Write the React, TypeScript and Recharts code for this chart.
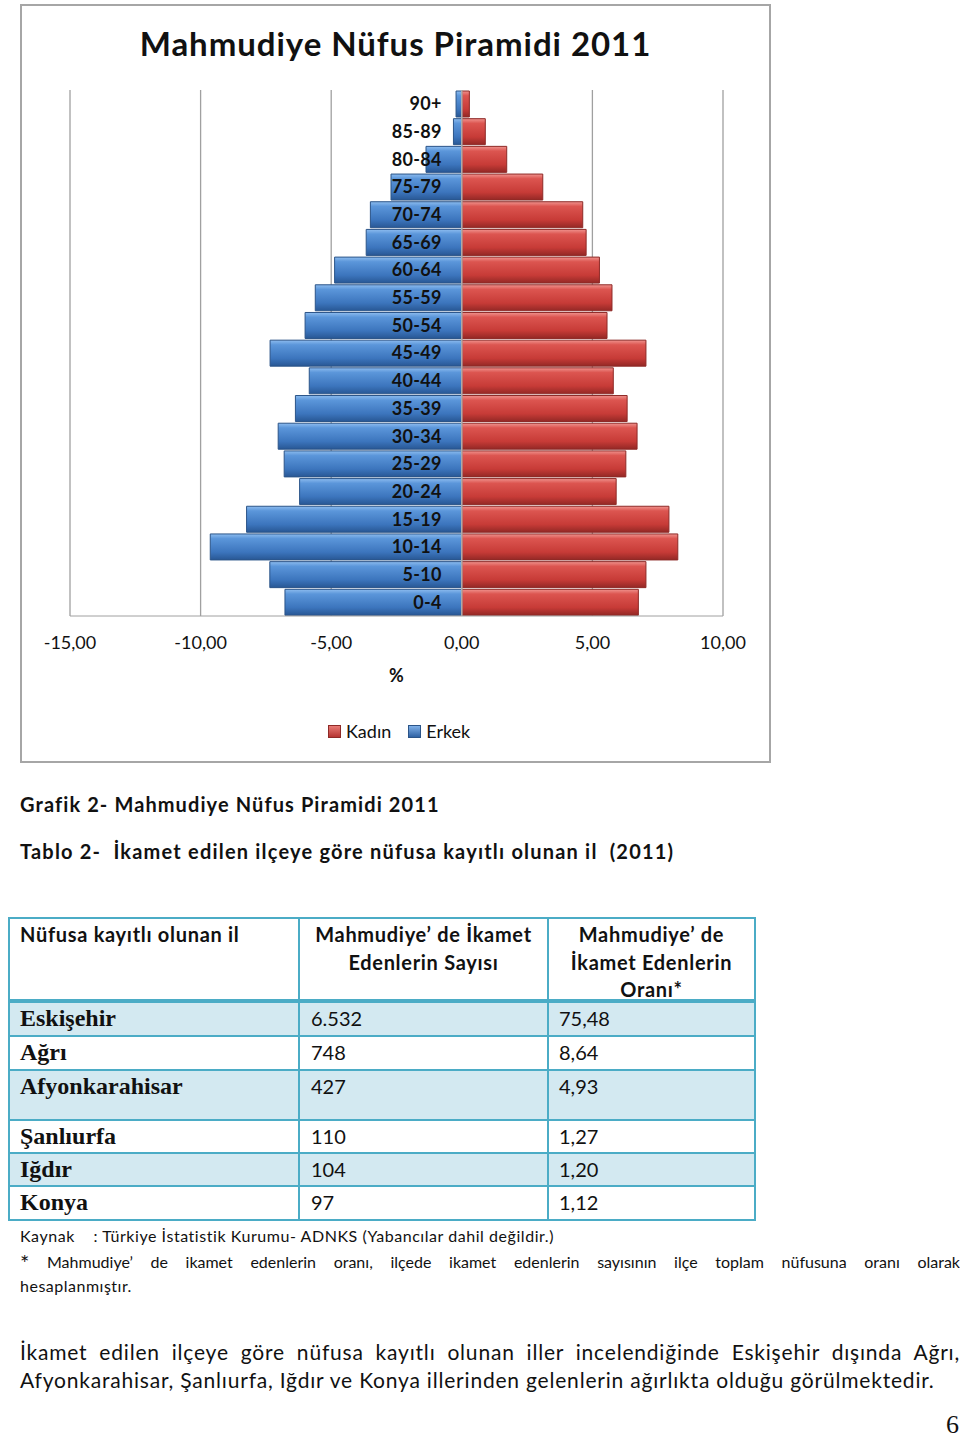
import React from 'react';
import { BarChart, Bar, XAxis, YAxis, CartesianGrid, ReferenceLine } from 'recharts';

const ageGroups = ['90+', '85-89', '80-84', '75-79', '70-74', '65-69', '60-64', '55-59', '50-54', '45-49', '40-44', '35-39', '30-34', '25-29', '20-24', '15-19', '10-14', '5-10', '0-4'];
const erkek = [-0.22, -0.32, -1.37, -2.71, -3.5, -3.66, -4.87, -5.61, -6.0, -7.34, -5.84, -6.37, -7.03, -6.8, -6.21, -8.24, -9.63, -7.35, -6.77];
const kadin = [0.29, 0.9, 1.72, 3.1, 4.63, 4.76, 5.27, 5.75, 5.56, 7.05, 5.8, 6.33, 6.71, 6.28, 5.91, 7.93, 8.27, 7.05, 6.76];
const xTicks = [-15, -10, -5, 0, 5, 10];

const tableProvinces = ['Eskişehir', 'Ağrı', 'Afyonkarahisar', 'Şanlıurfa', 'Iğdır', 'Konya'];
const tableCounts = ['6.532', '748', '427', '110', '104', '97'];
const tableRates = ['75,48', '8,64', '4,93', '1,27', '1,20', '1,12'];

const data = ageGroups.map((age, i) => ({ age, erkek: erkek[i], kadin: kadin[i] }));

const CW = 747;
const CH = 755;
const YW = 1;
const M = { top: 84, right: 46, bottom: 75, left: 48 - YW };
const X_MIN = -15;
const X_MAX = 10;
const PLOT_LEFT = M.left + YW;
const PLOT_W = CW - PLOT_LEFT - M.right;
const ZERO_X = PLOT_LEFT + ((0 - X_MIN) / (X_MAX - X_MIN)) * PLOT_W;
const LABEL_X = ZERO_X - 20;

const SANS = 'Lato, "Open Sans", sans-serif';
const SERIF = '"Liberation Serif", "DejaVu Serif", serif';

const renderAgeTick = (props: any) => {
  const { y, payload } = props;
  return (
    <text x={LABEL_X} y={y} dy="0.36em" textAnchor="end" fontFamily={SANS} fontWeight={700} fontSize={18} fill="#111" letterSpacing={0.3}>
      {payload.value}
    </text>
  );
};

const fmt = (v: number) => v.toFixed(2).replace('.', ',');

const BORDER = '#4bacc6';
const SHADE = '#d3e9f1';

export default function App() {
  const rowHeights = [34, 34, 50, 33, 33, 34];
  return (
    <div style={{ position: 'absolute', left: 0, top: 0, width: 960, height: 1437, background: '#fff', fontFamily: SANS, color: '#111' }}>
      {/* Chart box */}
      <div style={{ position: 'absolute', left: 20, top: 4, width: 751, height: 759, border: '2px solid #a6a6a6', boxSizing: 'border-box' }}>
        <div style={{ position: 'absolute', left: 0, top: 0, width: CW, height: CH }}>
          <BarChart width={CW} height={CH} data={data} layout="vertical" stackOffset="sign" margin={M} barCategoryGap={1}>
            <defs>
              <linearGradient id="blueGrad" x1="0" y1="0" x2="0" y2="1">
                <stop offset="0%" stopColor="#8dbcef" />
                <stop offset="18%" stopColor="#5b96da" />
                <stop offset="70%" stopColor="#3c75bd" />
                <stop offset="100%" stopColor="#285794" />
              </linearGradient>
              <linearGradient id="redGrad" x1="0" y1="0" x2="0" y2="1">
                <stop offset="0%" stopColor="#f0938e" />
                <stop offset="18%" stopColor="#dc5550" />
                <stop offset="70%" stopColor="#c73b37" />
                <stop offset="100%" stopColor="#932825" />
              </linearGradient>
            </defs>
            <CartesianGrid horizontal={false} vertical={true} stroke="#a0a0a0" strokeWidth={1.3} />
            <XAxis
              type="number"
              domain={[X_MIN, X_MAX]}
              ticks={xTicks}
              tickFormatter={fmt}
              allowDataOverflow
              height={70}
              tickLine={false}
              tickMargin={14}
              axisLine={{ stroke: '#a0a0a0' }}
              tick={{ fontFamily: SANS, fontSize: 18, fill: '#111' }}
              label={{ value: '%', position: 'insideBottom', offset: 4, style: { fontFamily: SANS, fontSize: 18, fontWeight: 700, fill: '#111' } }}
            />
            <Bar dataKey="erkek" name="Erkek" stackId="p" fill="url(#blueGrad)" stroke="#2b5488" strokeWidth={1} isAnimationActive={false} />
            <Bar dataKey="kadin" name="Kadın" stackId="p" fill="url(#redGrad)" stroke="#8e2a27" strokeWidth={1} isAnimationActive={false} />
            <ReferenceLine x={0} stroke="#b0b0b0" strokeWidth={1.5} />
            <YAxis type="category" dataKey="age" width={YW} tickLine={false} axisLine={false} tick={renderAgeTick} interval={0} />
          </BarChart>
        </div>
        <div style={{ position: 'absolute', left: 0, top: 19, width: '100%', textAlign: 'center', fontSize: 33, letterSpacing: 0.95, fontWeight: 700, lineHeight: '36px', color: '#111' }}>
          Mahmudiye Nüfus Piramidi 2011
        </div>
        {/* legend */}
        <div style={{ position: 'absolute', left: 306, top: 714, height: 22, display: 'flex', alignItems: 'center', fontSize: 18, color: '#111' }}>
          <span style={{ display: 'inline-block', width: 11, height: 11, background: 'linear-gradient(#e87a75,#b63532)', border: '1px solid #8e2a27', marginRight: 5 }} />
          <span style={{ marginRight: 17 }}>Kadın</span>
          <span style={{ display: 'inline-block', width: 11, height: 11, background: 'linear-gradient(#7fb0e8,#2f62a4)', border: '1px solid #2b5488', marginRight: 5 }} />
          <span>Erkek</span>
        </div>
      </div>

      {/* captions */}
      <div style={{ position: 'absolute', left: 20, top: 792, fontSize: 20, letterSpacing: 1.1, fontWeight: 700, lineHeight: '24px', whiteSpace: 'pre' }}>
        Grafik 2- Mahmudiye Nüfus Piramidi 2011
      </div>
      <div style={{ position: 'absolute', left: 20, top: 839, fontSize: 20, letterSpacing: 1.2, fontWeight: 700, lineHeight: '24px', whiteSpace: 'pre' }}>
        {'Tablo 2-  İkamet edilen ilçeye göre nüfusa kayıtlı olunan il  (2011)'}
      </div>

      {/* table */}
      <div style={{ position: 'absolute', left: 8, top: 917, width: 748 }}>
        <div style={{ display: 'flex', height: 86, border: `2px solid ${BORDER}`, borderBottom: `4px solid ${BORDER}`, boxSizing: 'border-box', background: '#fff', letterSpacing: 0.7 }}>
          <div style={{ width: 290, borderRight: `2px solid ${BORDER}`, fontWeight: 700, fontSize: 20, lineHeight: '27.5px', paddingLeft: 10, paddingTop: 2, boxSizing: 'border-box' }}>
            Nüfusa kayıtlı olunan il
          </div>
          <div style={{ width: 249, borderRight: `2px solid ${BORDER}`, fontWeight: 700, fontSize: 20, lineHeight: '27.5px', textAlign: 'center', paddingTop: 2, boxSizing: 'border-box' }}>
            Mahmudiye’ de İkamet<br />Edenlerin Sayısı
          </div>
          <div style={{ flex: 1, fontWeight: 700, fontSize: 20, lineHeight: '27.5px', textAlign: 'center', paddingTop: 2, boxSizing: 'border-box' }}>
            Mahmudiye’ de<br />İkamet Edenlerin<br />Oranı*
          </div>
        </div>
        {tableProvinces.map((p, i) => (
          <div key={p} style={{ display: 'flex', height: rowHeights[i], border: `2px solid ${BORDER}`, borderTop: 'none', boxSizing: 'border-box', background: i % 2 === 0 ? SHADE : '#fff' }}>
            <div style={{ width: 290, borderRight: `2px solid ${BORDER}`, fontFamily: SERIF, fontWeight: 700, fontSize: 24, lineHeight: '31px', paddingLeft: 10, boxSizing: 'border-box' }}>
              {p}
            </div>
            <div style={{ width: 249, borderRight: `2px solid ${BORDER}`, fontSize: 20, lineHeight: '31px', paddingLeft: 11, boxSizing: 'border-box' }}>
              {tableCounts[i]}
            </div>
            <div style={{ flex: 1, fontSize: 20, lineHeight: '31px', paddingLeft: 10, boxSizing: 'border-box' }}>
              {tableRates[i]}
            </div>
          </div>
        ))}
      </div>

      {/* footnotes */}
      <div style={{ position: 'absolute', left: 20, top: 1226, fontSize: 16, letterSpacing: 0.55, lineHeight: '20px', whiteSpace: 'pre' }}>
        {'Kaynak    : Türkiye İstatistik Kurumu- ADNKS (Yabancılar dahil değildir.)'}
      </div>
      <div style={{ position: 'absolute', left: 20, top: 1251, width: 940, fontSize: 16, lineHeight: '22px', textAlign: 'justify', textAlignLast: 'justify' as any }}>
        <span style={{ fontSize: 22, verticalAlign: -3 }}>*</span> Mahmudiye’ de ikamet edenlerin oranı, ilçede ikamet edenlerin sayısının ilçe toplam nüfusuna oranı olarak
      </div>
      <div style={{ position: 'absolute', left: 20, top: 1276, fontSize: 16, letterSpacing: 0.5, lineHeight: '20px' }}>
        hesaplanmıştır.
      </div>

      {/* paragraph */}
      <div style={{ position: 'absolute', left: 20, top: 1338, width: 940, fontSize: 21, lineHeight: '28px', letterSpacing: 0.8, textAlign: 'justify', textAlignLast: 'justify' as any }}>
        İkamet edilen ilçeye göre nüfusa kayıtlı olunan iller incelendiğinde Eskişehir dışında Ağrı,
      </div>
      <div style={{ position: 'absolute', left: 20, top: 1366, fontSize: 21, lineHeight: '28px', letterSpacing: 0.8, whiteSpace: 'pre' }}>
        Afyonkarahisar, Şanlıurfa, Iğdır ve Konya illerinden gelenlerin ağırlıkta olduğu görülmektedir.
      </div>

      <div style={{ position: 'absolute', left: 946, top: 1410, fontFamily: SERIF, fontSize: 26, lineHeight: '30px' }}>6</div>
    </div>
  );
}
